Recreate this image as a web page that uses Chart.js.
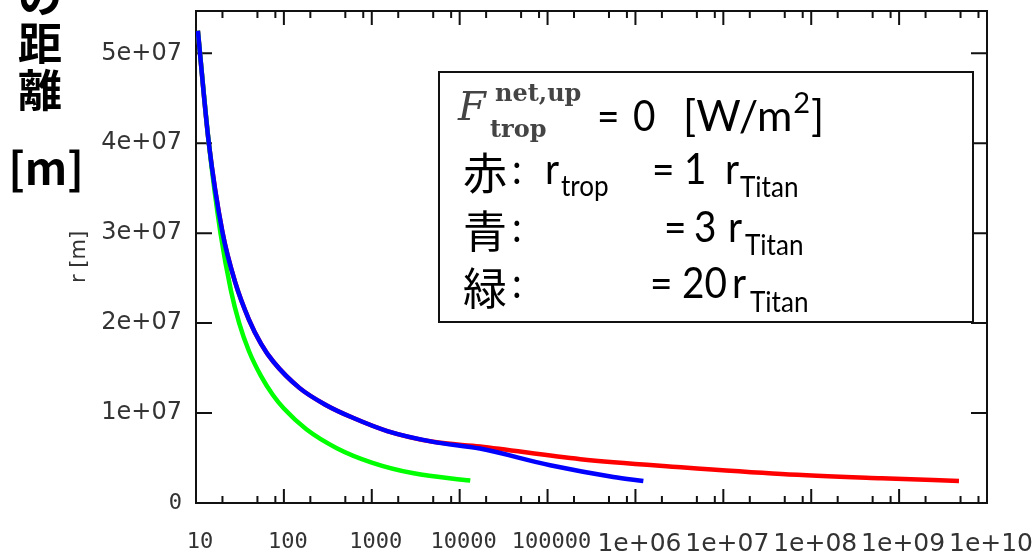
<!DOCTYPE html>
<html>
<head>
<meta charset="utf-8">
<script src="https://cdn.jsdelivr.net/npm/chart.js@4"></script>
<style>
  html, body { margin: 0; padding: 0; background: #fff; }
  canvas { display: block; }
</style>
</head>
<body>
<canvas id="r_chart" width="1035" height="554"></canvas>
<script>
// values (x: log axis, r in metres)
const redX = [10.5, 14, 20, 28, 40, 55, 76, 150, 300, 600, 1500, 5000, 1.7e4, 2.37e5, 3.3e6, 4.6e7, 6.3e8, 4.8e9];
const redR = [5.25e7, 4.0e7, 3.01e7, 2.45e7, 2.04e7, 1.77e7, 1.57e7, 1.28e7, 1.09e7, 0.95e7, 0.80e7, 0.68e7, 0.628e7, 0.487e7, 0.398e7, 0.323e7, 0.275e7, 0.245e7];

const blueX = [10.5, 14, 20, 28, 40, 55, 76, 150, 300, 600, 1500, 5000, 1.7e4, 1.07e5, 5.6e5, 1.23e6];
const blueR = [5.25e7, 4.0e7, 3.01e7, 2.45e7, 2.04e7, 1.77e7, 1.57e7, 1.28e7, 1.09e7, 0.95e7, 0.80e7, 0.68e7, 0.605e7, 0.42e7, 0.29e7, 0.245e7];

const greenX = [10.5, 14, 19, 25, 31, 40, 55, 75, 100, 180, 400, 1000, 3000, 1.32e4];
const greenR = [5.25e7, 4.0e7, 3.0e7, 2.36e7, 2.0e7, 1.69e7, 1.41e7, 1.2e7, 1.05e7, 0.82e7, 0.61e7, 0.45e7, 0.33e7, 0.25e7];

const xTickValues = [1e1, 1e2, 1e3, 1e4, 1e5, 1e6, 1e7, 1e8, 1e9, 1e10];
const xTickLabels = ["10", "100", "1000", "10000", "100000", "1e+06", "1e+07", "1e+08", "1e+09", "1e+10"];
const xMinorSteps = [2, 5, 8];
const yTickValues = [0, 1e7, 2e7, 3e7, 4e7, 5e7];
const yTickLabels = ["0", "1e+07", "2e+07", "3e+07", "4e+07", "5e+07"];

function toPoints(xs, ys) {
  return xs.map((x, i) => ({ x: x, y: ys[i] }));
}

// gnuplot mixes fonts: plain numbers in mono, exponent labels in sans
function tickFont(c, monoSize, sansSize) {
  const label = c.tick ? String(c.tick.label) : "e";
  if (label.indexOf("e") < 0) return { family: "'DejaVu Sans Mono'", size: monoSize };
  return { family: "'DejaVu Sans'", size: sansSize };
}

// text squeezed a little to look like the Calibri of the original slide
function squeezed(ctx, text, x, y, font, sx) {
  ctx.save();
  ctx.font = font;
  ctx.translate(x, y);
  ctx.scale(sx, 1);
  ctx.fillText(text, 0, 0);
  ctx.restore();
}

const framePlugin = {
  id: "frame",
  beforeDatasetsDraw(chart) {
    const { ctx, chartArea: a, scales } = chart;
    ctx.save();
    ctx.strokeStyle = "#111";
    ctx.lineWidth = 2;
    ctx.strokeRect(a.left, a.top, a.right - a.left, a.bottom - a.top);
    ctx.beginPath();
    xTickValues.forEach((v, i) => {
      const px = scales.x.getPixelForValue(v);
      ctx.moveTo(px, a.bottom); ctx.lineTo(px, a.bottom - 14);
      ctx.moveTo(px, a.top); ctx.lineTo(px, a.top + 14);
      if (i == xTickValues.length - 1) return;
      xMinorSteps.forEach((m) => {
        const mx = scales.x.getPixelForValue(v * m);
        ctx.moveTo(mx, a.bottom); ctx.lineTo(mx, a.bottom - 7);
        ctx.moveTo(mx, a.top); ctx.lineTo(mx, a.top + 7);
      });
    });
    yTickValues.forEach((v) => {
      const py = scales.y.getPixelForValue(v);
      ctx.moveTo(a.left, py); ctx.lineTo(a.left + 16, py);
      ctx.moveTo(a.right, py); ctx.lineTo(a.right - 16, py);
    });
    ctx.stroke();
    ctx.restore();
  },
};

const notePlugin = {
  id: "note",
  afterDraw(chart) {
    const ctx = chart.ctx;
    ctx.save();
    // cut-off axis caption on the far left
    ctx.fillStyle = "#000";
    ctx.textAlign = "center";
    ctx.textBaseline = "middle";
    ctx.font = "bold 44px 'Noto Sans CJK JP'";
    ctx.fillText("の", 40, -4);
    ctx.fillText("距", 40, 43);
    ctx.fillText("離", 40, 90);
    ctx.fillText("[m]", 46, 168);

    // legend box
    ctx.fillStyle = "#fff";
    ctx.fillRect(439, 72, 534, 250);
    ctx.strokeStyle = "#111";
    ctx.lineWidth = 2;
    ctx.strokeRect(439, 72, 534, 250);

    ctx.textAlign = "left";
    ctx.fillStyle = "#444";
    ctx.textBaseline = "alphabetic";
    ctx.font = "italic 40px 'DejaVu Serif'";
    ctx.fillText("F", 458, 120);
    ctx.font = "bold 24px 'DejaVu Serif'";
    ctx.fillText("net,up", 495, 101);
    ctx.fillText("trop", 490, 137);

    ctx.fillStyle = "#000";
    const big = "43px Lato";
    const small = "29px Lato";

    // [W/m²] with the superscript placed right after the text
    ctx.font = big;
    ctx.fillText("[W/m", 683, 131);
    let px = 683 + ctx.measureText("[W/m").width + 1;
    ctx.font = small;
    ctx.fillText("2", px, 113);
    px += ctx.measureText("2").width + 1;
    ctx.font = big;
    ctx.fillText("]", px, 131);

    const runs = [
      ["=", 597, 131, big], ["0", 633, 131, big],
      [":", 512, 184, big], ["r", 545, 184, big], ["trop", 561, 196, small],
      ["=", 652, 184, big], ["1", 684, 184, big], ["r", 725, 184, big], ["Titan", 740, 197, small],
      [":", 512, 242, big], ["=", 664, 242, big], ["3", 694, 242, big], ["r", 728, 242, big], ["Titan", 745, 255, small],
      [":", 512, 298, big], ["=", 650, 298, big], ["20", 682, 298, big], ["r", 732, 298, big], ["Titan", 750, 312, small],
    ];
    runs.forEach((r) => squeezed(ctx, r[0], r[1], r[2], r[3], 0.9));

    ctx.textBaseline = "middle";
    ctx.font = "44px 'Noto Sans CJK JP'";
    ctx.fillText("赤", 463, 173);
    ctx.fillText("青", 463, 231);
    ctx.fillText("緑", 463, 288);
    ctx.restore();
  },
};

window.onload = function () {
  const ctx = document.getElementById("r_chart").getContext("2d");
  const config = {
    type: "line",
    data: {
      datasets: [
        { label: "red", data: toPoints(redX, redR), borderColor: "#ff0000", order: 3 },
        { label: "green", data: toPoints(greenX, greenR), borderColor: "#00ff00", order: 2 },
        { label: "blue", data: toPoints(blueX, blueR), borderColor: "#0000ff", order: 1 },
      ],
    },
    options: {
      responsive: false,
      animation: false,
      elements: {
        line: { borderWidth: 4.5, cubicInterpolationMode: "monotone", fill: false },
        point: { radius: 0 },
      },
      layout: { padding: { left: 0, top: 11, right: 48, bottom: 0 } },
      plugins: {
        legend: { display: false },
        tooltip: { enabled: false },
      },
      scales: {
        x: {
          type: "logarithmic",
          min: 10,
          max: 1e10,
          grid: { display: false, drawTicks: false },
          border: { display: false },
          afterBuildTicks: (s) => { s.ticks = xTickValues.map((v) => ({ value: v })); },
          afterFit: (s) => { s.height = 51; s.paddingLeft = 0; s.paddingRight = 0; },
          ticks: {
            autoSkip: false,
            maxRotation: 0,
            minRotation: 0,
            padding: 26,
            labelOffset: 4,
            color: "#333",
            font: (c) => tickFont(c, 22, 25),
            callback: (v, i) => xTickLabels[i],
          },
        },
        y: {
          type: "linear",
          min: 0,
          max: 5.47e7,
          grid: { display: false, drawTicks: false },
          border: { display: false },
          afterBuildTicks: (s) => { s.ticks = yTickValues.map((v) => ({ value: v })); },
          afterFit: (s) => { s.width = 196; s.paddingTop = 0; s.paddingBottom = 0; },
          title: {
            display: true,
            text: "r [m]",
            color: "#333",
            font: { family: "'DejaVu Sans'", size: 21 },
            padding: { top: 67, bottom: 0 },
          },
          ticks: {
            padding: 14,
            color: "#333",
            font: (c) => tickFont(c, 22, 24),
            callback: (v, i) => yTickLabels[i],
          },
        },
      },
    },
    plugins: [framePlugin, notePlugin],
  };
  new Chart(ctx, config);
};
</script>
</body>
</html>
